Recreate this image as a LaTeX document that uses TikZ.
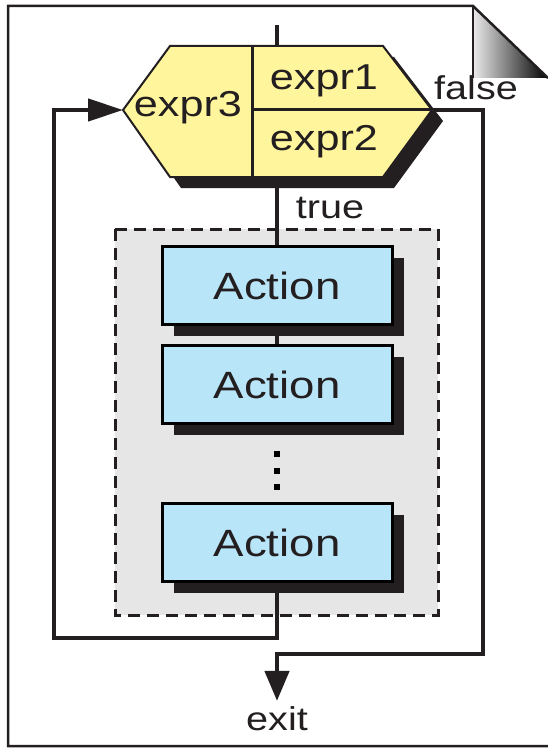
\documentclass[tikz,border=0pt]{standalone}
\usepackage{fontspec}
\setmainfont[FakeStretch=1.2]{Liberation Sans}
\usetikzlibrary{arrows.meta,shadows,positioning}
\definecolor{ink}{HTML}{231F20}
\definecolor{hexyellow}{HTML}{FFF59D}
\definecolor{actblue}{HTML}{B9E5F9}
\definecolor{boxgray}{HTML}{E6E6E6}
\begin{document}
\begin{tikzpicture}[x=1pt,y=-1pt,
	flow/.style={draw=ink,line width=4.5pt},
	action/.style={draw=black,line width=3pt,fill=actblue,minimum width=230pt,minimum height=78pt,
		font=\fontsize{38}{40}\selectfont,text=ink,
		drop shadow={shadow xshift=12pt,shadow yshift=-11pt,fill=ink,opacity=1}},
	expr/.style={font=\fontsize{36}{40}\selectfont,text=ink,inner sep=0pt,anchor=base},
	lbl/.style={font=\fontsize{33}{36}\selectfont,text=ink,inner sep=0pt,anchor=base}]
				\useasboundingbox (0,0) rectangle (548,749);
				\shade[left color=black!8,right color=black] (473,6) -- (473,78) -- (548,78) -- cycle;
				\draw[ink,line width=2.5pt] (548,746) -- (8,746) -- (8,6) -- (473,6) -- (548,78);
				\draw[ink,line width=2pt] (473,6) -- (473,78);
				\coordinate (entry) at (277,25);
				\coordinate (hexL) at (123,110);
				\coordinate (hexR) at (432,110);
				\coordinate (hexT) at (277,46);
				\coordinate (hexB) at (277,177);
				\fill[ink,shift={(11,11)}] (170,46) -- (383,46) -- (432,110) -- (383,177) -- (170,177) -- (123,110) -- cycle;
				\draw[ink,line width=2pt,fill=hexyellow] (170,46) -- (383,46) -- (hexR) -- (383,177) -- (170,177) -- (hexL) -- cycle;
				\draw[ink,line width=3pt] (252,46) -- (252,177) (252,110) -- (hexR);
				\node[expr] (e3) at (188,117) {expr3};
				\node[expr] (e1) at (324,90) {expr1};
				\node[expr] (e2) at (324,150) {expr2};
				\draw[flow] (entry) -- (hexT);
				\draw[ink,line width=3pt,dash pattern=on 12pt off 7pt,fill=boxgray] (115,229) rectangle (438,615);
				\node[action] (act1) at (277,285.5) {Action};
				\node[action] (act2) at (277,384.5) {Action};
				\node[action] (act3) at (277,542.5) {Action};
				\foreach \y in {454,471,487}
					\fill[black] (274,\y-3) rectangle (280,\y+3);
				\draw[flow] (hexB) -- (act1);
				\draw[flow] (act1) -- (act2);
				\node[lbl] (truelbl) at (330,218) {true};
				\node[lbl] (falselbl) at (476,100) {false};
				\node[lbl,inner sep=5pt] (exit) at (277,730) {exit};
				\coordinate (loopL) at (54,638);
				\coordinate (falseC) at (483,654);
				\draw[flow,-{Triangle[length=35pt,width=22pt]}] (act3) |- (loopL) |- (hexL);
				\draw[flow,-{Triangle[length=30pt,width=24pt]}] (hexR) -| (falseC) -| (exit);
\end{tikzpicture}
\end{document}
